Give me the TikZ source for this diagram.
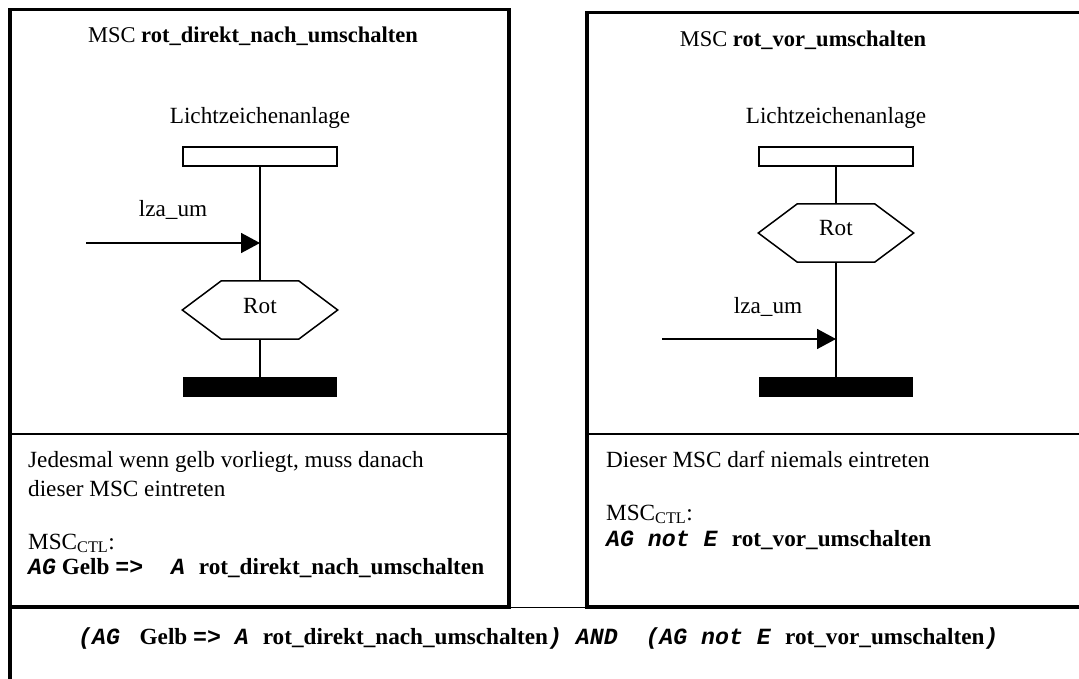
\documentclass[tikz,border=0pt]{standalone}
\usepackage{fontspec}
\setmainfont{Liberation Serif}
\newfontfamily\ctlmono{Liberation Mono}
\usetikzlibrary{arrows.meta}
% CTL operators: bold italic typewriter
\newcommand{\kw}[1]{{\ctlmono\bfseries\itshape #1}}

\begin{document}
\begin{tikzpicture}[x=1pt,y=-1pt,
  frame/.style={line width=3.5pt},
  divider/.style={line width=1.3pt},
  txt/.style={inner sep=0pt, anchor=base west, font=\fontsize{23.2}{27}\selectfont},
  ctxt/.style={inner sep=0pt, anchor=base, font=\fontsize{23.2}{27}\selectfont},
  title/.style={ctxt, font=\fontsize{22.5}{27}\selectfont},
  head/.style={draw, line width=1.5pt, minimum width=154pt, minimum height=19pt, inner sep=0pt},
  endbar/.style={fill=black, minimum width=154pt, minimum height=20pt, inner sep=0pt},
  cond/.style={minimum width=155pt, minimum height=58pt, inner sep=0pt},
  hexa/.style={line width=1.5pt, line join=miter},
  life/.style={line width=1.5pt},
  msg/.style={line width=1.5pt, -{Triangle[length=19pt,width=20pt]}}
]
\useasboundingbox (0,0) rectangle (1079,679);
\clip (0,0) rectangle (1079,679);

% ---------- frames ----------
\draw[frame] (10,9.5) rectangle (509,607);
\draw[frame] (10,607) -- (10,685);
\draw[frame] (1090,12.5) -- (587,12.5) -- (587,607) -- (1090,607);
\draw[line width=1.2pt] (509,607.5) -- (587,607.5);
\draw[divider] (10,434) -- (509,434);
\draw[divider] (587,434) -- (1090,434);

% ---------- MSC rot_direkt_nach_umschalten ----------
\node[title] (titleA) at (253,43) {MSC \textbf{rot\_direkt\_nach\_umschalten}};
\node[ctxt] (instA) at (260,124) {Lichtzeichenanlage};
\node[head] (ha) at (260,156.5) {};
\node[cond] (ra) at (260,310) {};
\draw[hexa] (ra.west) -- ([xshift=39pt]ra.north west) -- ([xshift=-39pt]ra.north east)
  -- (ra.east) -- ([xshift=-39pt]ra.south east) -- ([xshift=39pt]ra.south west) -- cycle;
\node[ctxt] (rotA) at (260,313) {Rot};
\node[endbar] (ea) at (260,387) {};
\draw[life] (ha.south) -- (ra.north);
\draw[life] (ra.south) -- (ea.north);
\coordinate (sa) at (86,243);
\draw[msg] (sa) -- (ha.south |- sa);
\node[ctxt] (msgA) at (173,217) {lza\_um};

\node[txt] (descA1) at (28,467) {Jedesmal wenn gelb vorliegt, muss danach};
\node[txt] (descA2) at (28,496) {dieser MSC eintreten};
\node[txt] (ctlA) at (28,549) {MSC\textsubscript{CTL}:};
\node[txt] (formA) at (28,574) {\kw{AG}\textbf{ Gelb }\kw{=>~~A }\textbf{rot\_direkt\_nach\_umschalten}};

% ---------- MSC rot_vor_umschalten ----------
\node[title] (titleB) at (803,47) {MSC \textbf{rot\_vor\_umschalten}};
\node[ctxt] (instB) at (836,124) {Lichtzeichenanlage};
\node[head] (hb) at (836,156.5) {};
\node[cond] (rb) at (836,233) {};
\draw[hexa] (rb.west) -- ([xshift=39pt]rb.north west) -- ([xshift=-39pt]rb.north east)
  -- (rb.east) -- ([xshift=-39pt]rb.south east) -- ([xshift=39pt]rb.south west) -- cycle;
\node[ctxt] (rotB) at (836,236) {Rot};
\node[endbar] (eb) at (836,387) {};
\draw[life] (hb.south) -- (rb.north);
\draw[life] (rb.south) -- (eb.north);
\coordinate (sb) at (662,339);
\draw[msg] (sb) -- (hb.south |- sb);
\node[ctxt] (msgB) at (768,313) {lza\_um};

\node[txt] (descB1) at (606,467) {Dieser MSC darf niemals eintreten};
\node[txt] (ctlB) at (606,520) {MSC\textsubscript{CTL}:};
\node[txt] (formB) at (606,546) {\kw{AG not E }\textbf{rot\_vor\_umschalten}};

% ---------- combined formula ----------
\node[txt] (formAll) at (78,644) {\kw{(AG }\textbf{ Gelb }\kw{=> A }\textbf{rot\_direkt\_nach\_umschalten}\kw{) AND~~(AG not E }\textbf{rot\_vor\_umschalten}\kw{)}};
\end{tikzpicture}
\end{document}
